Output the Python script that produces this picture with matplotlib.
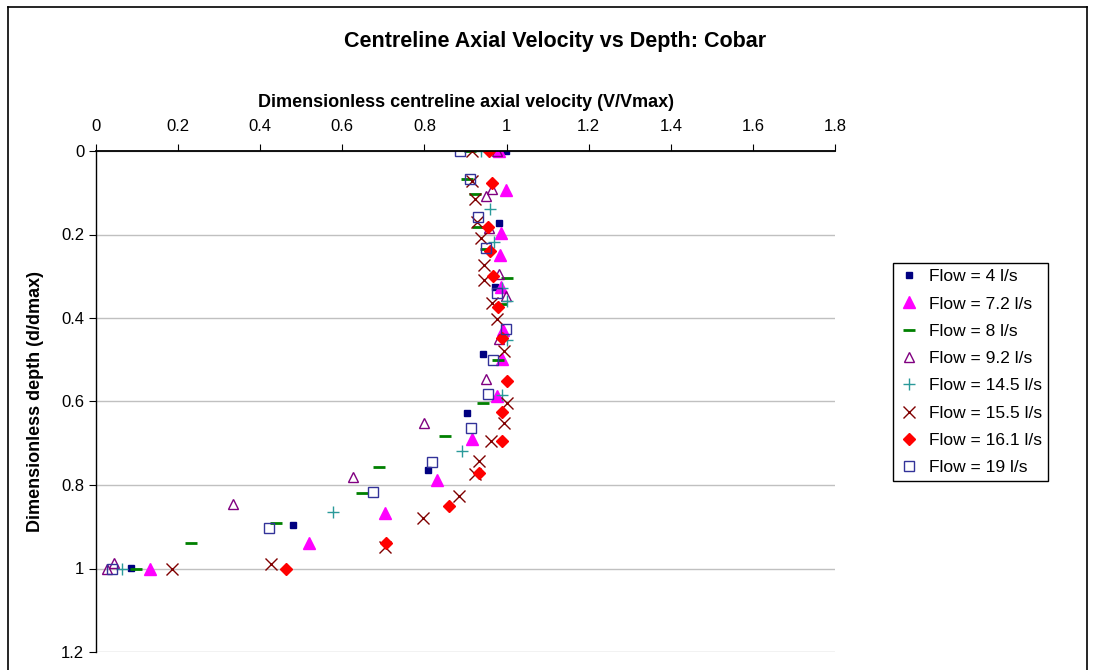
import matplotlib
matplotlib.use("Agg")
import matplotlib.pyplot as plt
from matplotlib.lines import Line2D

plt.rcParams["font.family"] = ["Liberation Sans", "DejaVu Sans"]

# centreline velocity profiles, V/Vmax against d/dmax, one pair of lists per flow rate
v_4 = [0.998, 0.981, 0.972, 0.943, 0.903, 0.809, 0.481, 0.085]
d_4 = [0.0, 0.172, 0.325, 0.487, 0.628, 0.763, 0.895, 0.998]

v_72 = [0.982, 0.999, 0.987, 0.984, 0.986, 0.992, 0.988, 0.976, 0.915, 0.830, 0.703, 0.518, 0.131]
d_72 = [0.0, 0.093, 0.197, 0.249, 0.325, 0.429, 0.499, 0.587, 0.691, 0.788, 0.868, 0.940, 1.0]

v_8 = [0.91, 0.903, 0.923, 0.931, 0.95, 1.0, 0.986, 0.980, 0.943, 0.850, 0.689, 0.647, 0.438, 0.231, 0.097]
d_8 = [0.0, 0.067, 0.104, 0.183, 0.235, 0.305, 0.367, 0.501, 0.604, 0.683, 0.756, 0.818, 0.892, 0.938, 1.0]

v_92 = [0.976, 0.965, 0.949, 0.958, 0.982, 0.998, 0.982, 0.949, 0.800, 0.625, 0.333, 0.045, 0.026]
d_92 = [0.0, 0.092, 0.108, 0.185, 0.295, 0.347, 0.451, 0.545, 0.651, 0.782, 0.846, 0.986, 1.0]

v_145 = [0.937, 0.960, 0.970, 0.988, 1.0, 1.0, 0.990, 0.891, 0.578, 0.064]
d_145 = [0.0, 0.139, 0.217, 0.329, 0.359, 0.453, 0.584, 0.718, 0.864, 1.0]

v_155 = [0.917, 0.917, 0.923, 0.927, 0.937, 0.946, 0.945, 0.964, 0.976, 0.994, 1.0, 0.994,
         0.962, 0.933, 0.923, 0.885, 0.797, 0.704, 0.426, 0.184]
d_155 = [0.0, 0.071, 0.116, 0.169, 0.208, 0.273, 0.31, 0.365, 0.403, 0.478, 0.604, 0.651,
         0.694, 0.742, 0.774, 0.826, 0.879, 0.949, 0.989, 1.0]

v_161 = [0.958, 0.965, 0.956, 0.960, 0.968, 0.980, 0.990, 1.0, 0.988, 0.988, 0.933, 0.861, 0.706, 0.464]
d_161 = [0.0, 0.077, 0.181, 0.240, 0.300, 0.374, 0.449, 0.551, 0.624, 0.694, 0.772, 0.850, 0.938, 1.0]

v_19 = [0.886, 0.911, 0.931, 0.950, 0.977, 0.998, 0.966, 0.954, 0.913, 0.818, 0.674, 0.422, 0.040]
d_19 = [0.0, 0.067, 0.157, 0.232, 0.339, 0.426, 0.501, 0.582, 0.664, 0.746, 0.817, 0.903, 1.0]

labels = ["Flow = 4 l/s", "Flow = 7.2 l/s", "Flow = 8 l/s", "Flow = 9.2 l/s",
          "Flow = 14.5 l/s", "Flow = 15.5 l/s", "Flow = 16.1 l/s", "Flow = 19 l/s"]
x_ticks = [0, 0.2, 0.4, 0.6, 0.8, 1, 1.2, 1.4, 1.6, 1.8]
y_ticks = [0, 0.2, 0.4, 0.6, 0.8, 1, 1.2]

series = [
  (v_4, d_4, dict(marker="s", color="#000080", markersize=5)),
  (v_72, d_72, dict(marker="^", color="#ff00ff", markersize=8)),
  (v_8, d_8, dict(marker="_", color="#008000", markersize=9, markeredgewidth=2)),
  (v_92, d_92, dict(marker="^", color="#800080", markerfacecolor="none", markersize=7, markeredgewidth=1)),
  (v_145, d_145, dict(marker="+", color="#2a9a9a", markersize=8, markeredgewidth=1)),
  (v_155, d_155, dict(marker="x", color="#800000", markersize=8, markeredgewidth=1)),
  (v_161, d_161, dict(marker="D", color="#ff0000", markersize=6)),
  (v_19, d_19, dict(marker="s", color="#333399", markerfacecolor="none", markersize=7, markeredgewidth=1)),
]

fig = plt.figure(figsize=(10.93, 6.70), dpi=100)
ax = fig.add_axes([96 / 1093, 1 - 652 / 670, (835 - 96) / 1093, (652 - 151) / 670])

for (v, d, style), label in zip(series, labels):
  ax.plot(v, d, linestyle="none", label=label, **style)

ax.set_xlim(0, 1.8)
ax.set_ylim(1.2, 0)
ax.set_xticks(x_ticks)
ax.set_xticklabels([f"{t:g}" for t in x_ticks])
ax.set_yticks(y_ticks)
ax.set_yticklabels([f"{t:g}" for t in y_ticks])
ax.xaxis.tick_top()
ax.xaxis.set_label_position("top")
ax.tick_params(axis="both", labelsize=12, length=5, width=0.8, color="black")
ax.tick_params(axis="x", pad=7)

ax.yaxis.grid(True, color="#c0c0c0", linewidth=1)
ax.set_axisbelow(True)
for side in ["right", "bottom"]:
  ax.spines[side].set_visible(False)
ax.spines["left"].set_linewidth(1)
ax.spines["top"].set_linewidth(1.3)

ax.set_xlabel("Dimensionless centreline axial velocity (V/Vmax)", fontsize=13, fontweight="bold", labelpad=9)
ax.set_ylabel("Dimensionless depth (d/dmax)", fontsize=13, fontweight="bold", labelpad=12)

fig.text(555 / 1093, 1 - 42 / 670, "Centreline Axial Velocity vs Depth: Cobar",
         fontsize=15.5, fontweight="bold", ha="center", va="center")

leg = ax.legend(loc="upper left", bbox_to_anchor=(893 / 1093, 1 - 263 / 670),
                bbox_transform=fig.transFigure, fontsize=12.5, frameon=True, fancybox=False,
                edgecolor="black", framealpha=1, borderpad=0.35, labelspacing=0.7,
                handlelength=1.2, handletextpad=0.5, borderaxespad=0)
leg.get_frame().set_linewidth(1)

# chart area outline
for xs, ys in [([8, 8], [7, 670]), ([8, 1087], [7, 7]), ([1087, 1087], [7, 670])]:
  fig.add_artist(Line2D([x / 1093 for x in xs], [1 - y / 670 for y in ys],
                        color="black", linewidth=1.2, transform=fig.transFigure))

fig.savefig("out.png", dpi=100)
